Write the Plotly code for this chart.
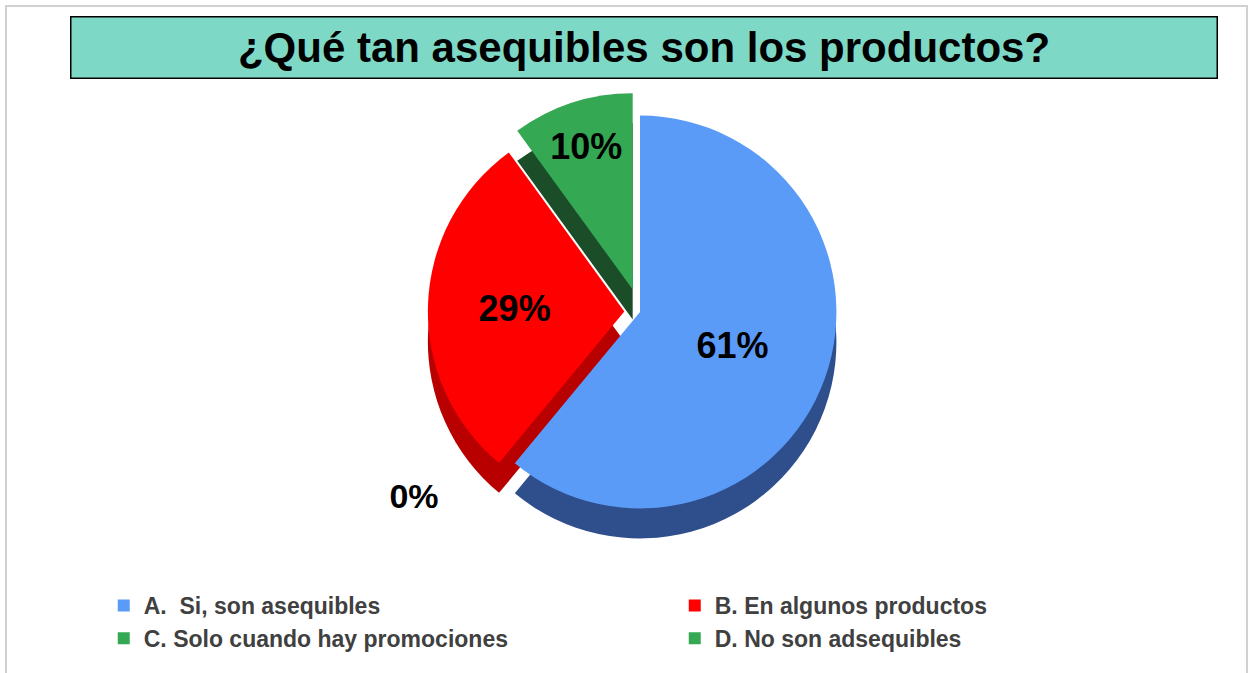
import plotly.graph_objects as go

labels = ["A.  Si, son asequibles", "B. En algunos productos",
          "C. Solo cuando hay promociones", "D. No son adsequibles"]
values = [61, 29, 10, 0]
top_colors = ["#5B9BF8", "#FF0000", "#34A853", "#34A853"]
side_colors = ["#2F4F8C", "#B80000", "#1B4D29", "#1B4D29"]
pulls = [0, 0.08, 0.12, 0]
title_text = "¿Qué tan asequibles son los productos?"
zero_label = "0%"

FONT = "Arial, 'Liberation Sans', sans-serif"
W, H = 1250, 673
y0, y1 = 1 - 532 / H, 1 - 92 / H
dy = 30 / H
dom_x = [0.2, 0.824]

fig = go.Figure()
# depth (side) layer
fig.add_trace(go.Pie(
    labels=labels, values=values, sort=False, direction="clockwise", rotation=0,
    pull=pulls, marker=dict(colors=side_colors, line=dict(width=0)),
    textinfo="none", hoverinfo="skip", showlegend=False,
    domain=dict(x=dom_x, y=[y0 - dy, y1 - dy]),
))
# top layer
fig.add_trace(go.Pie(
    labels=labels, values=values, sort=False, direction="clockwise", rotation=0,
    pull=pulls, marker=dict(colors=top_colors, line=dict(width=0)),
    texttemplate=["%{percent:.0%}", "%{percent:.0%}", "%{percent:.0%}", ""],
    textposition="inside", insidetextorientation="horizontal",
    textfont=dict(family=FONT, size=36, color="black", weight="bold"),
    domain=dict(x=dom_x, y=[y0, y1]),
))

fig.add_shape(type="rect", xref="paper", yref="paper", x0=6 / W, x1=1247 / W, y0=-0.02, y1=1 - 6 / H,
              line=dict(color="#D0D0D0", width=2), fillcolor="rgba(0,0,0,0)", layer="below")
fig.add_annotation(text="<b>" + title_text + "</b>", xref="paper", yref="paper",
                   x=644 / W, y=1 - 47.5 / H, xanchor="center", yanchor="middle", showarrow=False,
                   font=dict(family=FONT, size=42, color="black"),
                   bgcolor="#7ED8C6", bordercolor="black", borderwidth=1.5,
                   width=1143, height=58, align="center", valign="middle")
fig.add_annotation(text="<b>" + zero_label + "</b>", xref="paper", yref="paper",
                   x=414 / W, y=1 - 496 / H, xanchor="center", yanchor="middle", showarrow=False,
                   font=dict(family=FONT, size=34, color="black"),
                   bgcolor="white", width=70, height=46)

fig.update_layout(
    width=W, height=H,
    margin=dict(l=0, r=0, t=0, b=0),
    paper_bgcolor="white", plot_bgcolor="white",
    legend=dict(orientation="h", x=0.083, y=1 - 584 / H, xanchor="left", yanchor="top",
                entrywidth=526, entrywidthmode="pixels",
                font=dict(family=FONT, size=23, color="#404040", weight="bold"),
                itemwidth=30, tracegroupgap=4),
)
fig.write_html("out.html", config={"displayModeBar": False},
               post_script="document.body.style.margin='0px';")
